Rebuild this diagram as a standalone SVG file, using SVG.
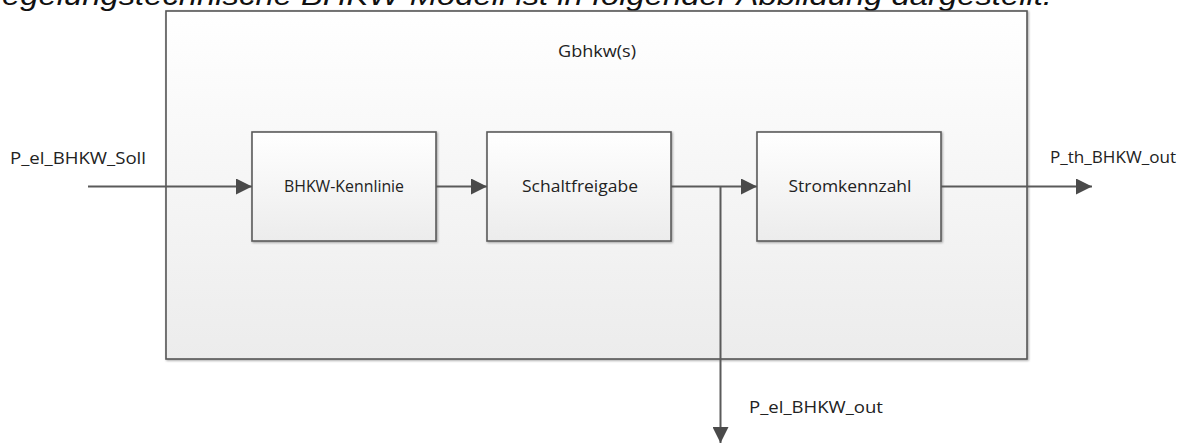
<svg xmlns="http://www.w3.org/2000/svg" width="1196" height="446" viewBox="0 0 1196 446">
  <defs>
    <linearGradient id="boxFill" x1="0" y1="0" x2="0" y2="1">
      <stop offset="0" stop-color="#ffffff"/>
      <stop offset="1" stop-color="#ececec"/>
    </linearGradient>
    <filter id="shadow" x="-5%" y="-5%" width="110%" height="110%">
      <feDropShadow dx="1" dy="1" stdDeviation="0.8" flood-color="#000" flood-opacity="0.35"/>
    </filter>
    <marker id="arrow" viewBox="0 0 16 16" refX="16" refY="8" markerWidth="16" markerHeight="16" markerUnits="userSpaceOnUse" orient="auto">
      <path d="M0,0 L16,8 L0,16 Z" fill="#4a4a4a"/>
    </marker>
  </defs>
  <style>
    .frame { fill: url(#boxFill); stroke: #555555; stroke-width: 1.6; filter: url(#shadow); }
    .block { fill: url(#boxFill); stroke: #5a5a5a; stroke-width: 1.6; filter: url(#shadow); }
    .label { font-family: "Open Sans", "Liberation Sans", sans-serif; font-size: 17px; fill: #222222; }
    .mid { text-anchor: middle; }
    .wire { fill: none; stroke: #5a5a5a; stroke-width: 2; }
    .intro { font-family: "Liberation Sans", Arial, sans-serif; font-size: 27px; font-style: italic; fill: #111111; }
  </style>

  <rect width="1196" height="446" fill="#ffffff"/>

  <!-- running text of the page, cut off above -->
  <text class="intro" x="2" y="5" textLength="1050" lengthAdjust="spacingAndGlyphs">egelungstechnische BHKW-Modell ist in folgender Abbildung dargestellt.</text>

  <g id="gbhkw">
    <rect class="frame" x="166" y="11" width="861" height="348"/>
    <text class="label mid" x="597" y="57" textLength="78" lengthAdjust="spacingAndGlyphs">Gbhkw(s)</text>
  </g>

  <g id="kennlinie">
    <rect class="block" x="252" y="132" width="184" height="109"/>
    <text class="label mid" x="344" y="192" textLength="120" lengthAdjust="spacingAndGlyphs">BHKW-Kennlinie</text>
  </g>

  <g id="schaltfreigabe">
    <rect class="block" x="487" y="132" width="184" height="109"/>
    <text class="label mid" x="580" y="192" textLength="116" lengthAdjust="spacingAndGlyphs">Schaltfreigabe</text>
  </g>

  <g id="stromkennzahl">
    <rect class="block" x="757" y="132" width="184" height="109"/>
    <text class="label mid" x="850" y="192" textLength="123" lengthAdjust="spacingAndGlyphs">Stromkennzahl</text>
  </g>

  <g id="connectors">
    <path class="wire" d="M88,186.5 H252" marker-end="url(#arrow)"/>
    <path class="wire" d="M436,186.5 H487" marker-end="url(#arrow)"/>
    <path class="wire" d="M671,186.5 H757" marker-end="url(#arrow)"/>
    <path class="wire" d="M720.5,186.5 V443" marker-end="url(#arrow)"/>
    <path class="wire" d="M941,186.5 H1092" marker-end="url(#arrow)"/>
  </g>

  <g id="signals">
    <text class="label" x="10" y="164" textLength="136" lengthAdjust="spacingAndGlyphs">P_el_BHKW_Soll</text>
    <text class="label" x="1050" y="163" textLength="126" lengthAdjust="spacingAndGlyphs">P_th_BHKW_out</text>
    <text class="label" x="749" y="413" textLength="134" lengthAdjust="spacingAndGlyphs">P_el_BHKW_out</text>
  </g>
</svg>
